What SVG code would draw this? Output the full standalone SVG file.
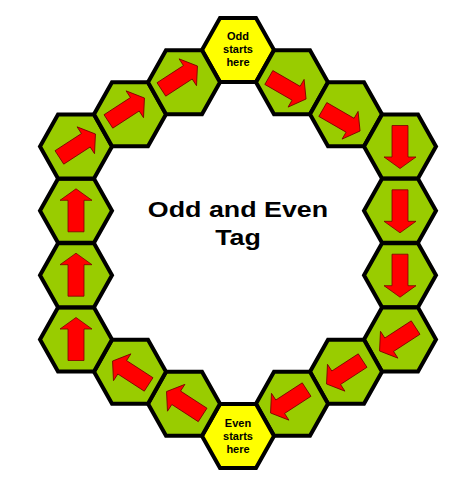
<svg xmlns="http://www.w3.org/2000/svg" xmlns:xlink="http://www.w3.org/1999/xlink" width="460" height="480" viewBox="0 0 460 480">
<style>
.hex{stroke:#000;stroke-width:4;stroke-linejoin:miter}
.green{fill:#99CC00}
.yellow{fill:#FFFF00}
.arrow{fill:#FF0000;stroke:#7a0000;stroke-width:0.8}
.lbl{font-family:"Liberation Sans",Arial,sans-serif;font-weight:bold;font-size:11px;fill:#000;text-anchor:middle}
.title{font-family:"Liberation Sans",Arial,sans-serif;font-weight:bold;font-size:22px;fill:#000;text-anchor:middle}
</style>
<defs>
<path id="hex" d="M-36,0 L-18,-32 L18,-32 L36,0 L18,32 L-18,32 Z"/>
<path id="arr" d="M0,-22 L16,-10.5 L8,-10.5 L8,21 L-8,21 L-8,-10.5 L-16,-10.5 Z"/>
</defs>
<rect width="460" height="480" fill="#fff"/>
<g id="connectors"></g>
<g id="odd-start"><use href="#hex" class="hex yellow" transform="translate(238,50)"/>
<text class="lbl" x="238" y="40">Odd</text><text class="lbl" x="238" y="53">starts</text><text class="lbl" x="238" y="66">here</text></g>
<g id="r1"><use href="#hex" class="hex green" transform="translate(292,82.2)"/><use href="#arr" class="arrow" transform="translate(287,88) rotate(120)"/></g>
<g id="r2"><use href="#hex" class="hex green" transform="translate(346,114.3)"/><use href="#arr" class="arrow" transform="translate(341,120) rotate(120)"/></g>
<g id="r3"><use href="#hex" class="hex green" transform="translate(400,146.5)"/><use href="#arr" class="arrow" transform="translate(400,146.5) rotate(180)"/></g>
<g id="r4"><use href="#hex" class="hex green" transform="translate(400,210.8)"/><use href="#arr" class="arrow" transform="translate(400,210.8) rotate(180)"/></g>
<g id="r5"><use href="#hex" class="hex green" transform="translate(400,275.2)"/><use href="#arr" class="arrow" transform="translate(400,275.2) rotate(180)"/></g>
<g id="r6"><use href="#hex" class="hex green" transform="translate(400,339.5)"/><use href="#arr" class="arrow" transform="translate(398,339) rotate(237)"/></g>
<g id="r7"><use href="#hex" class="hex green" transform="translate(346,371.7)"/><use href="#arr" class="arrow" transform="translate(345,372) rotate(237)"/></g>
<g id="r8"><use href="#hex" class="hex green" transform="translate(292,403.8)"/><use href="#arr" class="arrow" transform="translate(289,401) rotate(237)"/></g>
<g id="even-start"><use href="#hex" class="hex yellow" transform="translate(238,436)"/>
<text class="lbl" x="238" y="427">Even</text><text class="lbl" x="238" y="440">starts</text><text class="lbl" x="238" y="453">here</text></g>
<g id="l8"><use href="#hex" class="hex green" transform="translate(184,403.8)"/><use href="#arr" class="arrow" transform="translate(185,403.5) rotate(303)"/></g>
<g id="l7"><use href="#hex" class="hex green" transform="translate(130,371.7)"/><use href="#arr" class="arrow" transform="translate(131,373) rotate(303)"/></g>
<g id="l6"><use href="#hex" class="hex green" transform="translate(76,339.5)"/><use href="#arr" class="arrow" transform="translate(76,339.5)"/></g>
<g id="l5"><use href="#hex" class="hex green" transform="translate(76,275.2)"/><use href="#arr" class="arrow" transform="translate(76,275.2)"/></g>
<g id="l4"><use href="#hex" class="hex green" transform="translate(76,210.8)"/><use href="#arr" class="arrow" transform="translate(76,210.8)"/></g>
<g id="l3"><use href="#hex" class="hex green" transform="translate(76,146.5)"/><use href="#arr" class="arrow" transform="translate(77,146) rotate(57)"/></g>
<g id="l2"><use href="#hex" class="hex green" transform="translate(130,114.3)"/><use href="#arr" class="arrow" transform="translate(126,110) rotate(57)"/></g>
<g id="l1"><use href="#hex" class="hex green" transform="translate(184,82.2)"/><use href="#arr" class="arrow" transform="translate(179,78) rotate(57)"/></g>
<g id="title" transform="translate(238,0) scale(1.22,1)">
<text class="title" x="0" y="217">Odd and Even</text>
<text class="title" x="0" y="245">Tag</text>
</g>
</svg>
